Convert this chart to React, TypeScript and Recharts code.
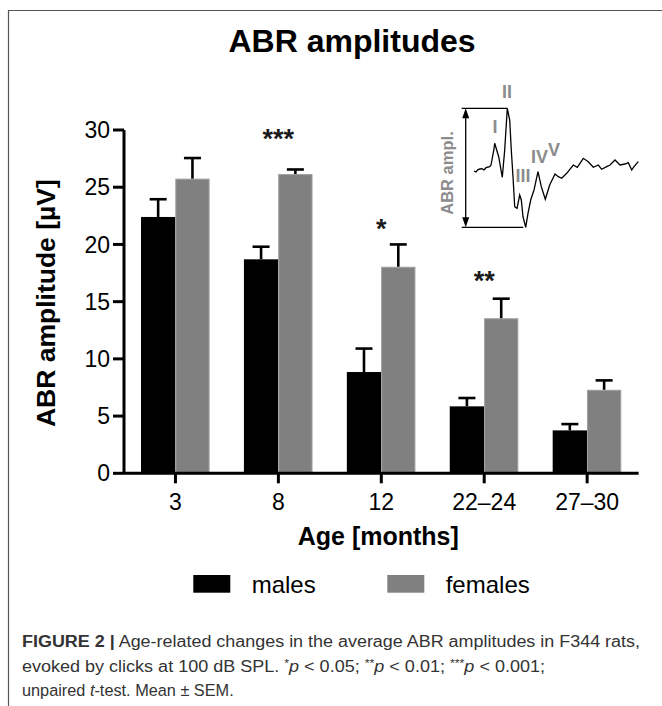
import React from 'react';
import {
  BarChart,
  Bar,
  XAxis,
  YAxis,
  ReferenceDot,
  LineChart,
  Line,
  ReferenceLine,
  Label,
} from 'recharts';

const FONT = '"Liberation Sans", Arial, Helvetica, sans-serif';

// ---- main chart data ----
const ageGroups = ['3', '8', '12', '22–24', '27–30'];
const malesMean = [22.4, 18.7, 8.85, 5.85, 3.75];
const malesSem = [1.55, 1.1, 2.05, 0.73, 0.55];
const femalesMean = [25.75, 26.15, 18.05, 13.55, 7.3];
const femalesSem = [1.8, 0.4, 1.95, 1.71, 0.82];
const sigMarks = ['', '***', '*', '**', ''];
const sigLevels = [0, 29.75, 21.9, 17.35, 0];
const yTicks = [0, 5, 10, 15, 20, 25, 30];
const seriesNames = ['males', 'females'];
const seriesColors = ['#000000', '#808080'];

// ---- inset ABR waveform (arbitrary units) ----
const waveTime = [0, 2, 4, 6, 8, 10, 12, 15.7, 17, 20, 20.7, 24.7, 28.3, 30.7, 33.3, 35.7, 37.3, 39, 40.7, 43, 45.7, 47.3, 49, 51.7, 54, 56.7, 60, 64, 67.3, 71.3, 75.7, 81, 84.3, 87.7, 92.7, 99.3, 103.3, 109.3, 114.3, 119.3, 124.3, 127.7, 132.7, 136, 141, 146, 151, 154.3, 157.7, 160, 164.3];
const waveAmp = [0, -1, 1.5, 2, 2.3, 1, 3.3, 4.3, 6, 22, 27.7, 14.3, -6.3, 21, 62.7, 51, 21, -5.7, -35.7, -37.3, -24, -29, -45.7, -56.3, -42.3, -29, -19, -0.7, -15.7, -28.3, -14, -3, -5.7, -7.3, -2.3, 6, 3.7, 12.7, 9.3, 3.7, 6, 1.7, 4.3, 6, 11, 6, 7, 8.3, 1, 4.3, 9.3];
const waveLabels = ['I', 'II', 'III', 'IV', 'V'];
const waveLabelTime = [21, 33, 49, 65.5, 80];
const waveLabelAmp = [45, 80, -4, 14.3, 22];

const rows = ageGroups.map((age, i) => ({
  age,
  males: malesMean[i],
  malesSem: malesSem[i],
  females: femalesMean[i],
  femalesSem: femalesSem[i],
  sig: sigMarks[i],
  sigY: sigLevels[i],
}));

const wave = waveTime.map((t, i) => ({ t, a: waveAmp[i] }));
const peakAmp = Math.max(...waveAmp);
const troughAmp = Math.min(...waveAmp);
const peakTime = waveTime[waveAmp.indexOf(peakAmp)];
const troughTime = waveTime[waveAmp.indexOf(troughAmp)];

const barWithSem = (valKey: string, semKey: string, fill: string, stroke: string) => (p: any) => {
  const { x, y, width, height, payload } = p;
  const v = payload[valKey];
  const s = payload[semKey];
  const top = y - (s * height) / v;
  const cx = x + width / 2;
  return (
    <g>
      <rect
        x={stroke === 'none' ? x : x + 0.5}
        y={stroke === 'none' ? y : y + 0.5}
        width={stroke === 'none' ? width : width - 1}
        height={stroke === 'none' ? height : height - 0.5}
        fill={fill}
        stroke={stroke}
        strokeWidth={stroke === 'none' ? 0 : 1}
      />
      <line x1={cx} x2={cx} y1={y} y2={top} stroke="#000" strokeWidth={2.6} />
      <line x1={cx - 8.5} x2={cx + 8.5} y1={top} y2={top} stroke="#000" strokeWidth={2.6} />
    </g>
  );
};

const ArrowShape = (p: any) => {
  const { x1, y1, y2 } = p;
  const top = Math.min(y1, y2);
  const bot = Math.max(y1, y2);
  return (
    <g>
      <line x1={x1} x2={x1} y1={top + 6} y2={bot - 6} stroke="#000" strokeWidth={1.3} />
      <path d={`M${x1} ${top} L${x1 - 3.5} ${top + 10} L${x1 + 3.5} ${top + 10} Z`} fill="#000" />
      <path d={`M${x1} ${bot} L${x1 - 3.5} ${bot - 10} L${x1 + 3.5} ${bot - 10} Z`} fill="#000" />
    </g>
  );
};

export default function App() {
  return (
    <div style={{ position: 'absolute', left: 0, top: 0, width: 662, height: 706, background: '#fff', fontFamily: FONT }}>
      {/* frame + title + legend + caption */}
      <svg width={662} height={706} style={{ position: 'absolute', left: 0, top: 0 }}>
        <line x1={8.5} x2={662} y1={10.5} y2={10.5} stroke="#555" strokeWidth={1.2} />
        <line x1={8.5} x2={8.5} y1={10} y2={706} stroke="#555" strokeWidth={1.2} />
        <text x={352} y={52} textAnchor="middle" fontFamily={FONT} fontWeight="bold" fontSize={32} fill="#000">
          ABR amplitudes
        </text>
        {seriesNames.map((name, i) => (
          <g key={name}>
            <rect x={193.3 + i * 194} y={575} width={37} height={17.7} fill={seriesColors[i]} />
            <text x={251.7 + i * 194} y={593} fontFamily={FONT} fontSize={24} fill="#000">
              {name}
            </text>
          </g>
        ))}
        <text x={22} y={647} fontFamily={FONT} fontSize={16} fill="#333" textLength={618} lengthAdjust="spacingAndGlyphs">
          <tspan fontWeight="bold">FIGURE 2 |</tspan>
          <tspan> Age-related changes in the average ABR amplitudes in F344 rats,</tspan>
        </text>
        <text x={22} y={672} fontFamily={FONT} fontSize={16} fill="#333" textLength={523} lengthAdjust="spacingAndGlyphs">
          <tspan>evoked by clicks at 100 dB SPL. </tspan>
          <tspan fontSize={11} dy={-5}>*</tspan>
          <tspan fontStyle="italic" dy={5}>p</tspan>
          <tspan> &lt; 0.05; </tspan>
          <tspan fontSize={11} dy={-5}>**</tspan>
          <tspan fontStyle="italic" dy={5}>p</tspan>
          <tspan> &lt; 0.01; </tspan>
          <tspan fontSize={11} dy={-5}>***</tspan>
          <tspan fontStyle="italic" dy={5}>p</tspan>
          <tspan> &lt; 0.001;</tspan>
        </text>
        <text x={22} y={696} fontFamily={FONT} fontSize={16.3} fill="#333">
          <tspan>unpaired </tspan>
          <tspan fontStyle="italic">t</tspan>
          <tspan>-test. Mean ± SEM.</tspan>
        </text>
      </svg>

      {/* main bar chart */}
      <div style={{ position: 'absolute', left: 0, top: 0 }}>
        <BarChart
          width={662}
          height={560}
          data={rows}
          margin={{ top: 130, right: 23.4, bottom: 46.7, left: 40 }}
          barGap={0}
          barSize={34.3}
        >
          <XAxis
            dataKey="age"
            height={40}
            interval={0}
            tickSize={10}
            tickMargin={10.7}
            axisLine={{ stroke: '#000', strokeWidth: 3 }}
            tickLine={{ stroke: '#000', strokeWidth: 3 }}
            tick={{ fill: '#000', fontSize: 23, fontFamily: FONT }}
          >
            <Label
              content={(props: any) => {
                const vb = props.viewBox || {};
                const x = vb.x + vb.width / 2 - 3;
                const y = vb.y + 72;
                return (
                  <text x={x} y={y} textAnchor="middle" fontFamily={FONT} fontWeight="bold" fontSize={25} fill="#000">
                    Age [months]
                  </text>
                );
              }}
            />
          </XAxis>
          <YAxis
            width={84}
            domain={[0, 30]}
            ticks={yTicks}
            interval={0}
            tickSize={11}
            tickMargin={3}
            axisLine={{ stroke: '#000', strokeWidth: 3 }}
            tickLine={{ stroke: '#000', strokeWidth: 3 }}
            tick={{ fill: '#000', fontSize: 23, fontFamily: FONT }}
          >
            <Label
              content={(props: any) => {
                const vb = props.viewBox || {};
                const x = vb.x + 15;
                const cy = vb.y + vb.height / 2 + 1.5;
                return (
                  <text
                    x={x}
                    y={cy}
                    transform={`rotate(-90 ${x} ${cy})`}
                    textAnchor="middle"
                    fontFamily={FONT}
                    fontWeight="bold"
                    fontSize={26.5}
                    fill="#000"
                  >
                    ABR amplitude [µV]
                  </text>
                );
              }}
            />
          </YAxis>
          <Bar
            dataKey="males"
            name={seriesNames[0]}
            fill={seriesColors[0]}
            isAnimationActive={false}
            shape={barWithSem('males', 'malesSem', seriesColors[0], 'none')}
          />
          <Bar
            dataKey="females"
            name={seriesNames[1]}
            fill={seriesColors[1]}
            isAnimationActive={false}
            shape={barWithSem('females', 'femalesSem', seriesColors[1], '#a0a0a0')}
          />
          {rows
            .filter((r) => r.sig)
            .map((r) => (
              <ReferenceDot
                key={r.age}
                x={r.age}
                y={r.sigY}
                r={0}
                shape={(p: any) => (
                  <text x={p.cx} y={p.cy + 15.5} textAnchor="middle" fontFamily={FONT} fontWeight="bold" fontSize={27} fill="#1a1a1a">
                    {r.sig}
                  </text>
                )}
              />
            ))}
        </BarChart>
      </div>

      {/* inset waveform */}
      <div style={{ position: 'absolute', left: 425, top: 80 }}>
        <LineChart width={225} height={160} data={wave} margin={{ top: 0, right: 0, bottom: 0, left: 0 }}>
          <XAxis type="number" dataKey="t" domain={[-49, 176]} hide allowDataOverflow />
          <YAxis type="number" domain={[-69, 91]} hide allowDataOverflow />
          <ReferenceLine
            segment={[
              { x: -12.3, y: peakAmp },
              { x: peakTime, y: peakAmp },
            ]}
            stroke="#000"
            strokeWidth={1.2}
          />
          <ReferenceLine
            segment={[
              { x: -12.3, y: troughAmp },
              { x: troughTime - 2.4, y: troughAmp },
            ]}
            stroke="#000"
            strokeWidth={1.2}
          />
          <ReferenceLine
            segment={[
              { x: -8.3, y: peakAmp },
              { x: -8.3, y: troughAmp },
            ]}
            shape={ArrowShape}
          />
          <Line type="linear" dataKey="a" stroke="#000" strokeWidth={1.3} dot={false} isAnimationActive={false} />
          <ReferenceDot
            x={-21.3}
            y={-2}
            r={0}
            shape={(p: any) => (
              <text
                x={p.cx}
                y={p.cy}
                transform={`rotate(-90 ${p.cx} ${p.cy})`}
                textAnchor="middle"
                fontFamily={FONT}
                fontWeight="bold"
                fontSize={16.5}
                fill="#8c8c8c"
              >
                ABR ampl.
              </text>
            )}
          />
          {waveLabels.map((lab, i) => (
            <ReferenceDot
              key={lab}
              x={waveLabelTime[i]}
              y={waveLabelAmp[i]}
              r={0}
              shape={(p: any) => (
                <text
                  x={p.cx}
                  y={p.cy + 6.5}
                  textAnchor="middle"
                  fontFamily={FONT}
                  fontWeight="bold"
                  fontSize={18}
                  fill="#8c8c8c"
                >
                  {lab}
                </text>
              )}
            />
          ))}
        </LineChart>
      </div>
    </div>
  );
}
